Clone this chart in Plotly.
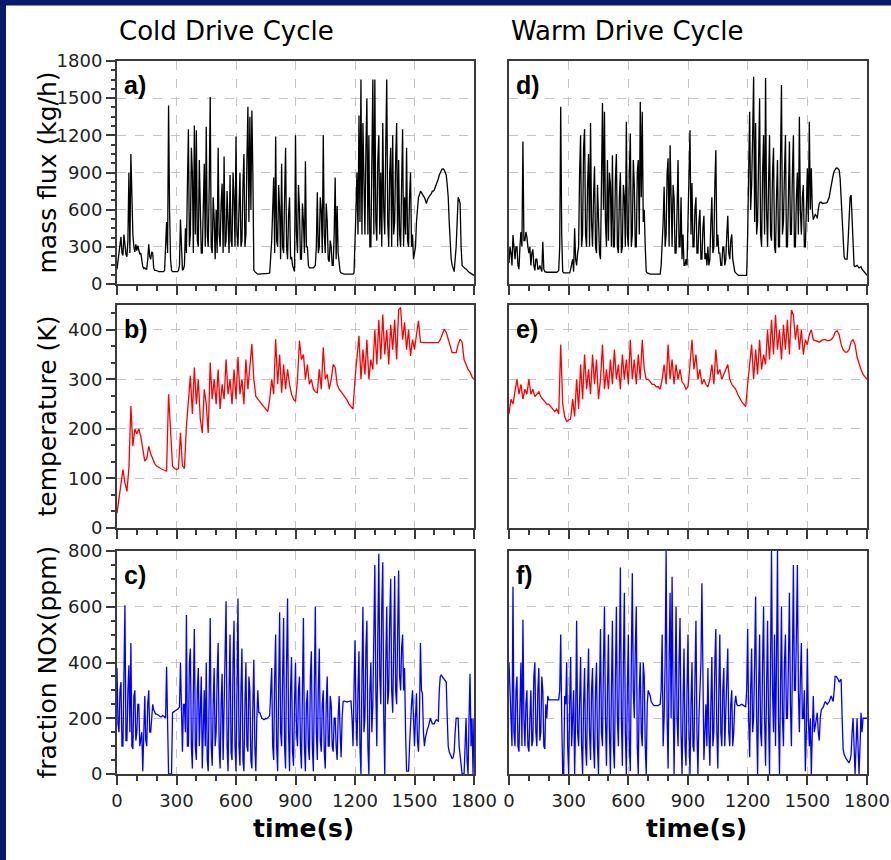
import plotly.graph_objects as go
from plotly.subplots import make_subplots

# Time bases of the drive cycles (s)
time_fine = list(range(0, 1801, 5))     # mass flux and NOx records
time_coarse = list(range(0, 1801, 10))  # temperature records

# Exhaust mass flux (kg/h), 5 s records
cold_mass_flux = [
    120, 200, 260, 330, 380, 250, 230, 400, 300, 240,
    220, 350, 900, 250, 1050, 600, 400, 300, 260, 320,
    270, 310, 280, 240, 250, 180, 140, 125, 130, 120,
    120, 200, 320, 220, 200, 260, 250, 130, 110, 110,
    110, 105, 100, 100, 100, 100, 100, 100, 110, 300,
    500, 250, 1440, 600, 200, 110, 100, 100, 100, 100,
    100, 100, 110, 150, 520, 200, 110, 120, 150, 450,
    250, 800, 1250, 300, 400, 1100, 900, 250, 1280, 400,
    1240, 350, 300, 1000, 700, 250, 250, 600, 970, 300,
    1270, 400, 300, 800, 1510, 300, 250, 700, 520, 200,
    600, 250, 1100, 400, 300, 650, 810, 250, 1030, 300,
    350, 750, 500, 250, 880, 350, 300, 900, 700, 300,
    1190, 400, 300, 700, 900, 300, 350, 800, 1050, 300,
    400, 1000, 1430, 500, 1350, 600, 1400, 900, 110, 100,
    90, 85, 80, 80, 80, 80, 80, 80, 80, 80,
    80, 80, 80, 85, 90, 200, 350, 600, 860, 250,
    1190, 350, 300, 800, 600, 200, 970, 300, 250, 700,
    1100, 300, 200, 550, 700, 200, 220, 150, 110, 100,
    1200, 400, 250, 800, 600, 200, 200, 650, 500, 250,
    990, 300, 300, 150, 130, 130, 130, 130, 130, 140,
    150, 300, 740, 250, 300, 700, 600, 250, 1200, 400,
    250, 650, 500, 200, 180, 350, 300, 150, 150, 400,
    860, 200, 630, 250, 150, 100, 90, 85, 80, 80,
    80, 80, 80, 80, 80, 80, 80, 80, 80, 90,
    300, 600, 900, 400, 1360, 500, 1650, 400, 1300, 800,
    400, 1100, 1500, 400, 1200, 300, 300, 1000, 1650, 400,
    1650, 500, 350, 1000, 1200, 400, 900, 300, 1300, 600,
    400, 1100, 1650, 500, 300, 900, 1100, 300, 1200, 400,
    500, 1000, 1300, 300, 1000, 400, 300, 800, 1250, 300,
    700, 400, 1100, 350, 300, 700, 900, 300, 400, 200,
    250, 300, 500, 600, 700, 720, 750, 740, 720, 710,
    700, 680, 650, 680, 700, 710, 720, 730, 750, 750,
    760, 780, 800, 820, 850, 880, 900, 920, 930, 930,
    920, 900, 880, 800, 700, 500, 300, 200, 150, 120,
    100, 200, 300, 500, 700, 680, 650, 300, 150, 140,
    130, 125, 120, 110, 100, 95, 90, 85, 80, 75,
    70,
]
warm_mass_flux = [
    170, 300, 250, 150, 395, 250, 200, 300, 300, 150,
    120, 300, 420, 300, 1150, 350, 350, 420, 380, 300,
    250, 300, 150, 250, 280, 150, 110, 200, 200, 120,
    120, 150, 130, 100, 340, 120, 100, 95, 95, 95,
    95, 95, 95, 95, 90, 90, 90, 90, 95, 100,
    110, 300, 1430, 400, 100, 90, 90, 90, 90, 90,
    90, 90, 120, 150, 200, 100, 450, 200, 150, 250,
    300, 900, 1200, 300, 400, 1100, 1250, 400, 300, 800,
    1050, 300, 1300, 500, 300, 700, 950, 300, 250, 800,
    600, 250, 200, 900, 1460, 600, 1390, 500, 300, 1000,
    350, 900, 800, 300, 1040, 300, 300, 850, 1050, 300,
    250, 700, 900, 250, 300, 800, 700, 300, 1310, 400,
    300, 900, 1215, 300, 400, 1000, 800, 300, 300, 900,
    1000, 400, 1470, 700, 1390, 500, 600, 300, 100, 90,
    85, 80, 80, 80, 80, 80, 80, 80, 80, 80,
    80, 80, 80, 150, 300, 500, 785, 300, 400, 900,
    1015, 300, 1120, 500, 300, 800, 700, 250, 250, 600,
    1000, 300, 300, 700, 200, 400, 150, 150, 200, 150,
    500, 900, 1240, 400, 815, 300, 300, 600, 700, 250,
    250, 500, 600, 200, 200, 450, 550, 200, 250, 150,
    300, 150, 200, 500, 700, 250, 300, 800, 1080, 300,
    400, 250, 250, 150, 150, 300, 300, 150, 200, 400,
    550, 250, 200, 350, 400, 200, 150, 100, 90, 80,
    75, 70, 70, 70, 70, 70, 70, 70, 70, 70,
    400, 900, 1390, 600, 800, 1200, 1673, 500, 1300, 400,
    500, 1000, 1500, 400, 300, 900, 1200, 400, 1662, 600,
    300, 800, 1200, 400, 350, 900, 1100, 300, 250, 700,
    1000, 300, 300, 1000, 1606, 400, 500, 900, 1200, 300,
    300, 700, 1150, 400, 400, 900, 1200, 300, 300, 700,
    900, 400, 1350, 600, 400, 700, 800, 300, 300, 600,
    935, 500, 1310, 600, 935, 600, 520, 540, 560, 550,
    530, 600, 650, 660, 660, 650, 650, 650, 650, 655,
    660, 680, 700, 750, 800, 850, 880, 910, 930, 935,
    936, 930, 920, 850, 700, 500, 300, 220, 200, 200,
    200, 350, 550, 700, 718, 500, 300, 150, 140, 145,
    150, 140, 130, 135, 140, 120, 110, 100, 90, 80,
    70,
]

# Exhaust temperature (K), 10 s records
cold_temperature = [
    30, 60, 84, 118, 91, 74, 121, 246, 165, 200,
    190, 200, 185, 160, 135, 140, 165, 150, 140, 130,
    125, 122, 120, 118, 116, 115, 270, 192, 125, 120,
    118, 120, 192, 125, 120, 205, 250, 307, 230, 324,
    250, 300, 220, 192, 280, 250, 192, 334, 260, 300,
    250, 320, 240, 290, 260, 340, 270, 300, 250, 320,
    260, 345, 270, 300, 250, 340, 280, 330, 371, 300,
    266, 260, 255, 250, 245, 240, 235, 260, 300, 270,
    381, 290, 350, 273, 330, 280, 320, 290, 270, 260,
    255, 300, 378, 340, 350, 300, 330, 290, 300, 280,
    275, 273, 320, 280, 364, 300, 310, 280, 300, 330,
    324, 290, 280, 275, 270, 265, 258, 250, 245, 240,
    300, 340, 388, 300, 360, 310, 380, 300, 340, 320,
    400, 330, 420, 340, 431, 350, 400, 330, 410, 360,
    420, 340, 440, 445, 380, 415, 360, 400, 347, 380,
    360, 390, 418, 375, 374, 374, 374, 374, 374, 374,
    374, 374, 374, 380, 390, 401, 395, 380, 370, 354,
    354, 354, 370, 381, 375, 340, 330, 320, 315, 305,
    300,
]
warm_temperature = [
    230, 260, 250, 280, 300, 270, 290, 260, 280, 270,
    300, 270, 280, 265, 270, 275, 265, 260, 255, 250,
    250, 245, 240, 235, 240, 230, 370, 250, 225, 215,
    218, 220, 260, 225, 300, 240, 330, 260, 350, 280,
    320, 270, 350, 290, 340, 260, 300, 370, 280, 320,
    280, 340, 290, 360, 300, 330, 280, 350, 300, 340,
    290, 380, 300, 340, 290, 350, 300, 380, 320, 300,
    300, 295, 290, 290, 285, 285, 280, 300, 330, 290,
    370, 300, 340, 290, 330, 300, 320, 295, 290, 280,
    285, 330, 380, 320, 350, 300, 320, 290, 300, 290,
    285, 300, 330, 290, 360, 310, 320, 300, 310, 320,
    330, 300, 290, 285, 280, 270, 262, 255, 250, 245,
    290, 330, 370, 300, 360, 310, 380, 320, 350, 330,
    400, 340, 420, 350, 430, 360, 400, 340, 410, 360,
    420, 350, 440, 430, 380, 410, 360, 400, 350, 380,
    370, 390, 400, 380, 378, 376, 375, 378, 380, 380,
    378, 378, 380, 385, 395, 398, 390, 370, 360, 355,
    355, 360, 375, 380, 370, 345, 330, 320, 310, 305,
    300,
]

# NOx fraction (ppm), 5 s records
cold_nox = [
    380, 180, 150, 300, 330, 100, 100, 350, 605, 120,
    120, 300, 390, 150, 470, 100, 90, 280, 300, 120,
    150, 250, 250, 100, 120, 150, 10, 150, 280, 120,
    100, 250, 300, 150, 150, 200, 250, 230, 220, 215,
    215, 212, 210, 208, 205, 206, 210, 208, 205, 200,
    385, 100, 0, 0, 0, 0, 220, 222, 225, 228,
    230, 232, 235, 240, 400, 200, 80, 250, 250, 150,
    570, 100, 100, 400, 450, 100, 20, 300, 520, 100,
    50, 300, 380, 100, 200, 350, 20, 150, 300, 100,
    400, 50, 10, 300, 560, 100, 30, 250, 380, 100,
    150, 350, 470, 100, 20, 250, 360, 50, 250, 400,
    620, 100, 10, 300, 500, 80, 50, 400, 550, 100,
    10, 300, 630, 100, 30, 300, 450, 50, 10, 250,
    400, 100, 80, 350, 300, 50, 20, 250, 410, 100,
    10, 200, 300, 220, 220, 210, 200, 198, 195, 196,
    200, 198, 200, 205, 210, 300, 380, 100, 50, 350,
    500, 100, 10, 300, 580, 150, 100, 350, 560, 100,
    20, 400, 630, 150, 10, 300, 420, 80, 30, 250,
    400, 150, 100, 300, 350, 100, 20, 300, 560, 100,
    10, 250, 300, 100, 50, 350, 440, 100, 10, 300,
    600, 150, 50, 300, 450, 120, 80, 250, 300, 80,
    20, 250, 350, 100, 100, 280, 250, 100, 80, 200,
    200, 100, 50, 200, 280, 150, 60, 200, 260, 262,
    260, 258, 258, 260, 260, 262, 262, 200, 100, 300,
    480, 200, 100, 300, 440, 100, 0, 350, 600, 150,
    200, 450, 550, 100, 0, 300, 400, 150, 250, 500,
    750, 300, 100, 500, 790, 350, 250, 600, 760, 200,
    0, 400, 600, 250, 300, 550, 700, 300, 220, 450,
    710, 300, 250, 500, 730, 350, 300, 450, 500, 300,
    380, 150, 10, 10, 10, 100, 200, 250, 300, 150,
    100, 200, 290, 120, 80, 200, 470, 300, 290, 150,
    100, 130, 150, 160, 170, 190, 200, 190, 180, 180,
    180, 190, 195, 192, 190, 300, 350, 355, 350, 345,
    340, 335, 330, 200, 100, 80, 70, 60, 55, 60,
    80, 150, 200, 200, 200, 100, 60, 10, 0, 0,
    0, 100, 200, 50, 0, 200, 360, 100, 200, 0,
    200,
]
warm_nox = [
    400, 300, 250, 100, 672, 150, 100, 300, 350, 100,
    80, 300, 400, 100, 553, 200, 100, 250, 300, 100,
    80, 200, 300, 100, 120, 350, 400, 150, 100, 300,
    380, 120, 150, 350, 300, 100, 90, 250, 200, 280,
    266, 266, 266, 266, 266, 266, 266, 266, 266, 266,
    266, 300, 500, 200, 0, 0, 280, 250, 400, 100,
    0, 250, 420, 100, 200, 300, 0, 200, 550, 150,
    100, 350, 420, 100, 0, 250, 380, 100, 30, 300,
    450, 150, 50, 300, 380, 100, 20, 300, 400, 100,
    0, 300, 520, 150, 100, 400, 600, 200, 30, 300,
    500, 150, 0, 300, 550, 100, 20, 350, 600, 200,
    100, 400, 741, 200, 30, 400, 650, 150, 0, 300,
    500, 100, 10, 400, 720, 300, 200, 450, 600, 100,
    0, 300, 400, 150, 100, 400, 350, 100, 0, 250,
    300, 290, 280, 260, 250, 248, 245, 245, 245, 245,
    245, 248, 250, 300, 500, 100, 200, 400, 803, 200,
    20, 400, 650, 200, 708, 300, 0, 300, 600, 200,
    100, 400, 560, 150, 0, 250, 450, 100, 30, 300,
    500, 150, 0, 250, 400, 100, 80, 350, 550, 150,
    0, 200, 300, 400, 684, 200, 50, 150, 250, 100,
    380, 150, 30, 250, 420, 100, 150, 400, 520, 150,
    20, 300, 500, 150, 100, 300, 380, 100, 200, 350,
    450, 150, 100, 250, 300, 100, 150, 250, 280, 250,
    245, 245, 245, 248, 250, 248, 245, 242, 240, 300,
    520, 200, 60, 300, 450, 150, 200, 400, 637, 200,
    0, 300, 500, 150, 100, 400, 600, 200, 30, 300,
    550, 200, 0, 400, 803, 300, 150, 500, 100, 400,
    803, 200, 0, 300, 600, 200, 100, 400, 500, 200,
    200, 400, 650, 250, 100, 400, 750, 300, 300, 500,
    750, 300, 150, 350, 470, 200, 200, 300, 10, 150,
    450, 200, 100, 200, 0, 150, 280, 150, 170, 200,
    220, 150, 120, 200, 230, 235, 240, 250, 260, 255,
    250, 255, 260, 270, 280, 270, 260, 300, 350, 350,
    345, 340, 330, 335, 340, 200, 90, 70, 60, 55,
    50, 45, 40, 50, 70, 150, 200, 100, 0, 100,
    200, 100, 0, 100, 220, 150, 200, 200, 200, 200,
    200,
]

column_titles = ["Cold Drive Cycle", "Warm Drive Cycle"]
panel_letters = [["a)", "d)"], ["b)", "e)"], ["c)", "f)"]]
y_titles = ["mass flux (kg/h)", "temperature (K)", "fraction NOx(ppm)"]
x_title = "time(s)"
x_ticks = [0, 300, 600, 900, 1200, 1500, 1800]

for name, series, base in [
    ("cold_mass_flux", cold_mass_flux, time_fine),
    ("warm_mass_flux", warm_mass_flux, time_fine),
    ("cold_temperature", cold_temperature, time_coarse),
    ("warm_temperature", warm_temperature, time_coarse),
    ("cold_nox", cold_nox, time_fine),
    ("warm_nox", warm_nox, time_fine),
]:
    if len(series) != len(base):
        raise ValueError(f"{name}: {len(series)} values, {len(base)} times")

W, H = 891, 860
NAVY = "#0b1b6b"
FRAME = "#3a3a3a"
FONT = "DejaVu Sans"

# Panel placement in pixels
col_px = {1: (117, 474), 2: (509, 867)}
row_px = {1: (61, 284), 2: (305, 528), 3: (551, 774)}

def xdom(c):
    a, b = col_px[c]
    return [a / W, b / W]

def ydom(r):
    top, bot = row_px[r]
    return [1 - bot / H, 1 - top / H]

rows = [
    dict(data=(cold_mass_flux, warm_mass_flux), t=time_fine,
         color="#000000", rng=[0, 1800], dtick=300, minor=75),
    dict(data=(cold_temperature, warm_temperature), t=time_coarse,
         color="#ff0000", rng=[0, 450], dtick=100, minor=100 / 3),
    dict(data=(cold_nox, warm_nox), t=time_fine,
         color="#0000ff", rng=[0, 800], dtick=200, minor=50),
]

fig = make_subplots(rows=3, cols=2)

for r, spec in enumerate(rows, start=1):
    for c in (1, 2):
        fig.add_trace(
            go.Scatter(x=spec["t"], y=spec["data"][c - 1], mode="lines",
                       line=dict(color=spec["color"], width=1.3),
                       showlegend=False, hoverinfo="skip"),
            row=r, col=c,
        )
        fig.update_xaxes(
            domain=xdom(c), range=[0, 1800], tickvals=x_ticks,
            automargin=False,
            showticklabels=(r == 3), ticks="outside", ticklen=9,
            tickwidth=2, tickcolor=FRAME,
            minor=dict(dtick=100, tick0=0, ticks="outside", ticklen=5,
                       tickwidth=2, tickcolor=FRAME, showgrid=False),
            showline=True, linecolor=FRAME, linewidth=2, mirror=True,
            showgrid=True, gridcolor="#c4c4c4", gridwidth=1, griddash="dash",
            zeroline=False,
            tickfont=dict(family=FONT, size=18, color="#222222"),
            row=r, col=c,
        )
        yax = dict(
            domain=ydom(r), range=spec["rng"], dtick=spec["dtick"], tick0=0,
            automargin=False,
            showline=True, linecolor=FRAME, linewidth=2, mirror=True,
            showgrid=True, gridcolor="#c4c4c4", gridwidth=1, griddash="dash",
            zeroline=False,
            tickfont=dict(family=FONT, size=18, color="#222222"),
        )
        if c == 1:
            yax.update(
                showticklabels=True, ticks="outside", ticklen=9, tickwidth=2,
                tickcolor=FRAME,
                minor=dict(dtick=spec["minor"], tick0=0, ticks="outside",
                           ticklen=4, tickwidth=2, tickcolor=FRAME,
                           showgrid=False),
            )
        else:
            yax.update(showticklabels=False, ticks="")
        fig.update_yaxes(row=r, col=c, **yax)

annotations = []
# Column headings
for c, title in zip((1, 2), column_titles):
    annotations.append(dict(
        text=title, x=col_px[c][0] / W, y=1 - 31 / H, xref="paper",
        yref="paper", xanchor="left", yanchor="middle", showarrow=False,
        font=dict(family=FONT, size=26, color="#000000"),
    ))
# Panel letters
for r in (1, 2, 3):
    for c in (1, 2):
        annotations.append(dict(
            text="<b>" + panel_letters[r - 1][c - 1] + "</b>",
            x=(col_px[c][0] + 5) / W, y=1 - (row_px[r][0] + 24) / H,
            xref="paper", yref="paper", xanchor="left", yanchor="middle",
            showarrow=False,
            font=dict(family="Liberation Sans", size=25, color="#000000"),
        ))
# Y-axis titles
for r, title in zip((1, 2, 3), y_titles):
    top, bot = row_px[r]
    annotations.append(dict(
        text=title, x=47 / W, y=1 - (top + bot) / 2 / H, xref="paper",
        yref="paper", xanchor="center", yanchor="middle", textangle=-90,
        showarrow=False, font=dict(family=FONT, size=25, color="#000000"),
    ))
# X-axis titles
for c in (1, 2):
    a, b = col_px[c]
    annotations.append(dict(
        text="<b>" + x_title + "</b>", x=((a + b) / 2 + 8) / W,
        y=1 - 828 / H, xref="paper", yref="paper", xanchor="center",
        yanchor="middle", showarrow=False,
        font=dict(family=FONT, size=25, color="#000000"),
    ))

shapes = [
    dict(type="rect", xref="paper", yref="paper", x0=0, x1=1,
         y0=1 - 5.5 / H, y1=1, fillcolor=NAVY, line=dict(width=0)),
    dict(type="rect", xref="paper", yref="paper", x0=0, x1=6 / W,
         y0=0, y1=1, fillcolor=NAVY, line=dict(width=0)),
]

fig.update_layout(
    template="none",
    width=W, height=H, margin=dict(l=0, r=0, t=0, b=0, pad=0),
    paper_bgcolor="#ffffff", plot_bgcolor="#ffffff",
    annotations=annotations, shapes=shapes, showlegend=False,
)

fig.write_html("out.html")
